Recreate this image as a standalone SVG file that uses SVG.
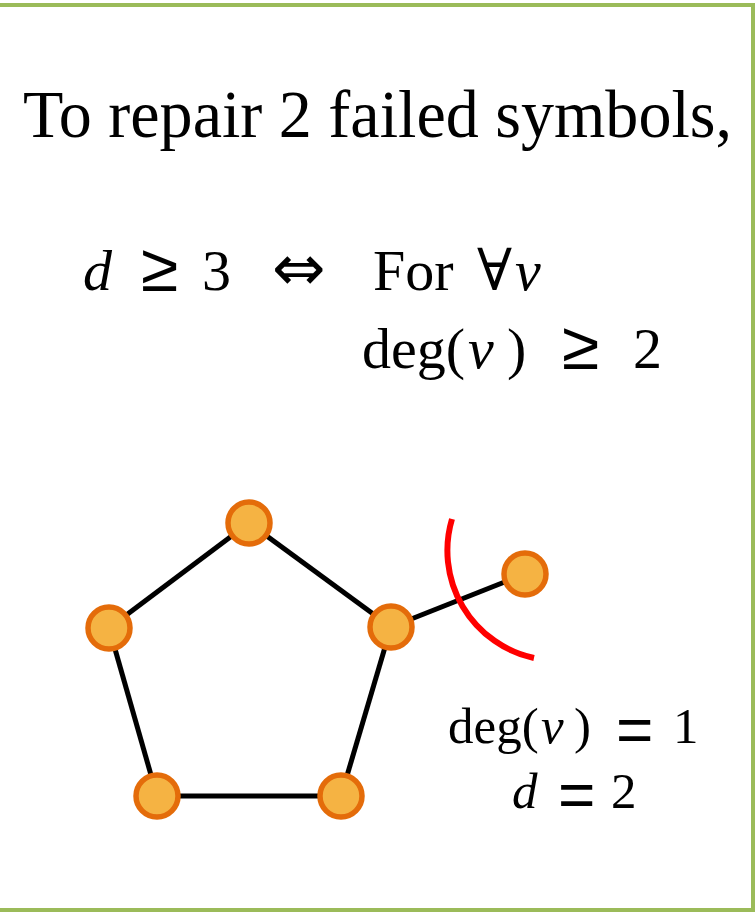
<svg xmlns="http://www.w3.org/2000/svg" width="755" height="912" viewBox="0 0 755 912">
<style>
.t{font-family:"Liberation Serif","DejaVu Serif",serif;fill:#000}
.i{font-style:italic}
.s{font-family:"DejaVu Sans",sans-serif;fill:#000}
.m{font-family:"Liberation Sans","DejaVu Sans",sans-serif;fill:#000}
.node{fill:#F5B343;stroke:#E46C0A;stroke-width:5.5}
.edge{stroke:#000;stroke-width:5;fill:none}
</style>
<rect x="-5" y="5" width="758" height="905" fill="#FFFFFF" stroke="#9BBB59" stroke-width="4"/>
<text class="t" x="23" y="137" font-size="68" textLength="709" lengthAdjust="spacingAndGlyphs">To repair 2 failed symbols,</text>
<g id="cond1" font-size="58">
<text x="83" y="290" class="t i">d</text>
<text x="141" y="291" class="m" font-size="68">≥</text>
<text x="202" y="290" class="t">3</text>
<text x="272" y="290" class="s" font-size="64">⇔</text>
<text x="373" y="290" class="t">For</text>
<text x="477" y="290" class="t">∀</text>
<text x="515" y="290" class="t i">v</text>
</g>
<g id="cond2" font-size="58">
<text x="362" y="368" class="t">deg(</text>
<text x="468" y="368" class="t i">v</text>
<text x="507" y="368" class="t">)</text>
<text x="562" y="369" class="m" font-size="68">≥</text>
<text x="633" y="368" class="t">2</text>
</g>
<g id="edges">
<line class="edge" x1="249" y1="523" x2="109" y2="628"/>
<line class="edge" x1="249" y1="523" x2="391" y2="627"/>
<line class="edge" x1="109" y1="628" x2="157" y2="796"/>
<line class="edge" x1="391" y1="627" x2="341" y2="796"/>
<line class="edge" x1="157" y1="796" x2="341" y2="796"/>
<line class="edge" x1="391" y1="627" x2="525" y2="574"/>
</g>
<path id="cut" d="M452,519 A110,110 0 0,0 534,658" fill="none" stroke="#FF0000" stroke-width="6"/>
<g id="n1"><circle class="node" cx="249" cy="523" r="21"/></g>
<g id="n2"><circle class="node" cx="109" cy="628" r="21"/></g>
<g id="n3"><circle class="node" cx="391" cy="627" r="21"/></g>
<g id="n4"><circle class="node" cx="157" cy="796" r="21"/></g>
<g id="n5"><circle class="node" cx="341" cy="796" r="21"/></g>
<g id="n6"><circle class="node" cx="525" cy="574" r="21"/></g>
<g id="label" font-size="51">
<text x="448" y="743" class="t">deg(</text>
<text x="541" y="743" class="t i">v</text>
<text x="574" y="743" class="t">)</text>
<text x="616" y="752" class="m" font-size="64">=</text>
<text x="673" y="743" class="t">1</text>
<text x="512" y="808" class="t i">d</text>
<text x="558" y="817" class="m" font-size="64">=</text>
<text x="611" y="808" class="t">2</text>
</g>
</svg>
